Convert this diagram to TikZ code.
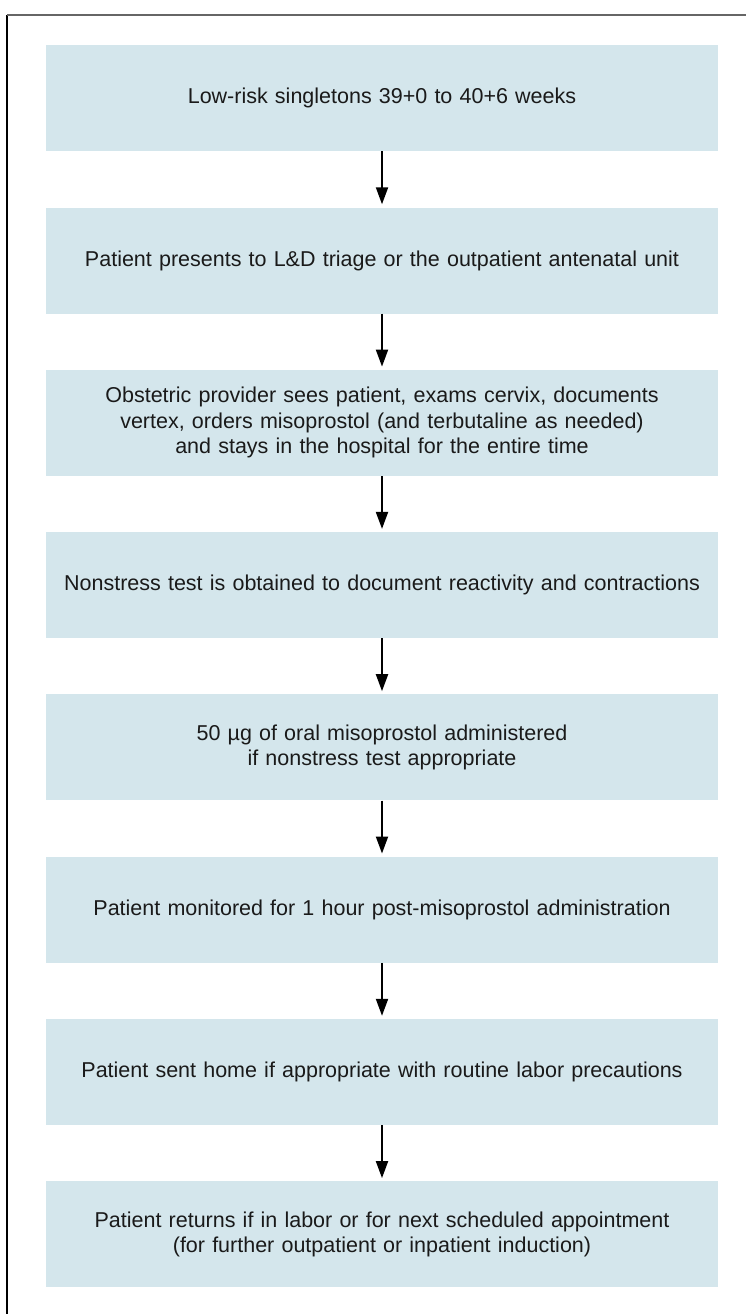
\documentclass[tikz,border=0pt]{standalone}
\usepackage{fontspec}
\setmainfont{Liberation Sans}
\usetikzlibrary{arrows.meta}
\definecolor{boxfill}{HTML}{D4E6EC}
\definecolor{txt}{HTML}{1A1A1A}
\tikzset{
  stepbox/.style={fill=boxfill, text=txt, text width=672pt, minimum height=106pt,
    inner sep=0pt, align=center, anchor=north,
    font=\fontsize{21.5}{25.5}\selectfont},
  flowarrow/.style={-{Triangle[length=17pt,width=12pt]}, line width=2pt, black, shorten >=3pt}
}
\begin{document}
\begin{tikzpicture}[x=1pt,y=-1pt]
\useasboundingbox (0,0) rectangle (746,1314);
\coordinate (fa) at (7,1314);
\coordinate (fb) at (7,15);
\coordinate (fc) at (746,15);
\draw[line width=1.2pt, black] (fa) -- (fb);
\draw[line width=1.2pt, black!60] (fb) -- (fc);
\node[stepbox] (b1) at (382,45) {Low-risk singletons 39+0 to 40+6 weeks};
\node[stepbox] (b2) at (382,207.3) {Patient presents to L\&D triage or the outpatient antenatal unit};
\node[stepbox] (b3) at (382,369.6) {Obstetric provider sees patient, exams cervix, documents\\ vertex, orders misoprostol (and terbutaline as needed)\\ and stays in the hospital for the entire time};
\node[stepbox] (b4) at (382,531.9) {Nonstress test is obtained to document reactivity and contractions};
\node[stepbox] (b5) at (382,694.2) {50 µg of oral misoprostol administered\\ if nonstress test appropriate};
\node[stepbox] (b6) at (382,856.5) {Patient monitored for 1 hour post-misoprostol administration};
\node[stepbox] (b7) at (382,1018.8) {Patient sent home if appropriate with routine labor precautions};
\node[stepbox] (b8) at (382,1181.1) {Patient returns if in labor or for next scheduled appointment\\ (for further outpatient or inpatient induction)};
\foreach \a/\b in {b1/b2,b2/b3,b3/b4,b4/b5,b5/b6,b6/b7,b7/b8}
  \draw[flowarrow] (\a.south) -- (\b.north);
\end{tikzpicture}
\end{document}
